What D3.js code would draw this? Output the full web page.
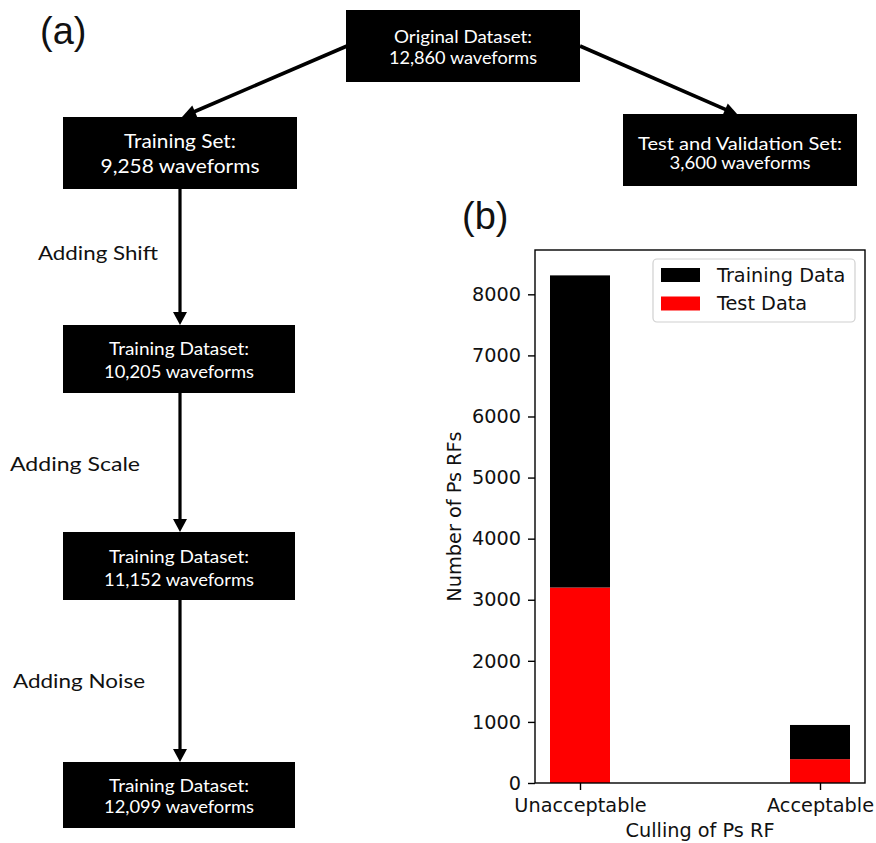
<!DOCTYPE html>
<html>
<head>
<meta charset="utf-8">
<script src="https://cdn.jsdelivr.net/npm/d3@7"></script>
<style>
  html, body { margin: 0; padding: 0; background: #fff; }
  svg { display: block; }
</style>
</head>
<body>
<svg id="chart" width="876" height="843"></svg>
<script>
// ---------------- DATA ----------------
const nodeTitles = ["Original Dataset:", "Training Set:", "Test and Validation Set:", "Training Dataset:", "Training Dataset:", "Training Dataset:"];
const nodeCounts = [12860, 9258, 3600, 10205, 11152, 12099];
const stepLabels = ["Adding Shift", "Adding Scale", "Adding Noise"];

const categories = ["Unacceptable", "Acceptable"];
const testData = [3200, 390];
const trainingData = [5110, 560];
const seriesNames = ["Training Data", "Test Data"];
const yTicks = [0, 1000, 2000, 3000, 4000, 5000, 6000, 7000, 8000];

// ---------------- LAYOUT ----------------
const svg = d3.select("#chart");
const boxFont = "Lato, 'Open Sans', sans-serif";
const fmt = d3.format(",");

const boxes = [
  {x: 346, y: 10, w: 234, h: 72, fs: 17, b1: 33, b2: 54, w1: 138, w2: 148},
  {x: 63, y: 117, w: 234, h: 72, fs: 19, b1: 31, b2: 56, w1: 112, w2: 159},
  {x: 623, y: 114, w: 234, h: 72, fs: 17.5, b1: 36, b2: 55, w1: 204, w2: 141},
  {x: 63, y: 325, w: 232, h: 68, fs: 17, b1: 30, b2: 53, w1: 140, w2: 150},
  {x: 63, y: 532, w: 232, h: 68, fs: 17, b1: 31, b2: 54, w1: 140, w2: 150},
  {x: 63, y: 762, w: 232, h: 66, fs: 17, b1: 30, b2: 51, w1: 140, w2: 150}
];

const g = svg.append("g");
boxes.forEach((b, i) => {
  g.append("rect").attr("x", b.x).attr("y", b.y).attr("width", b.w).attr("height", b.h).attr("fill", "#000");
  const cx = b.x + b.w / 2;
  g.append("text").attr("x", cx).attr("y", b.y + b.b1).attr("text-anchor", "middle")
    .attr("fill", "#fff").attr("font-family", boxFont).attr("font-size", b.fs)
    .attr("textLength", b.w1).attr("lengthAdjust", "spacingAndGlyphs")
    .text(nodeTitles[i]);
  g.append("text").attr("x", cx).attr("y", b.y + b.b2).attr("text-anchor", "middle")
    .attr("fill", "#fff").attr("font-family", boxFont).attr("font-size", b.fs)
    .attr("textLength", b.w2).attr("lengthAdjust", "spacingAndGlyphs")
    .text(fmt(nodeCounts[i]) + " waveforms");
});

function arrow(x1, y1, x2, y2, sw, hl, hw) {
  const dx = x2 - x1, dy = y2 - y1, len = Math.hypot(dx, dy);
  const ux = dx / len, uy = dy / len;
  const bx = x2 - ux * hl, by = y2 - uy * hl;
  g.append("line").attr("x1", x1).attr("y1", y1).attr("x2", bx + ux * 2).attr("y2", by + uy * 2)
    .attr("stroke", "#000").attr("stroke-width", sw);
  const px = -uy, py = ux;
  g.append("path")
    .attr("d", `M${x2},${y2}L${bx + px * hw / 2},${by + py * hw / 2}L${bx - px * hw / 2},${by - py * hw / 2}Z`)
    .attr("fill", "#000");
}

arrow(347, 46, 182, 117, 3.6, 14, 13);
arrow(580, 46, 738, 115, 3.6, 14, 13);
const chain = [1, 3, 4, 5];
for (let k = 0; k < chain.length - 1; k++) {
  const a = boxes[chain[k]], b = boxes[chain[k + 1]];
  arrow(180, a.y + a.h, 180, b.y, 3.2, 13, 14);
}

const stepPos = [{x: 38, y: 260, w: 120}, {x: 10, y: 471, w: 130}, {x: 13, y: 688, w: 132}];
stepLabels.forEach((s, i) => {
  g.append("text").attr("x", stepPos[i].x).attr("y", stepPos[i].y)
    .attr("font-family", boxFont).attr("font-size", 20).attr("fill", "#111")
    .attr("textLength", stepPos[i].w).attr("lengthAdjust", "spacingAndGlyphs")
    .text(s);
});

g.append("text").attr("x", 40).attr("y", 44).attr("font-family", "'Liberation Sans', Arial, sans-serif")
  .attr("font-size", 38).attr("fill", "#111").text("(a)");
g.append("text").attr("x", 462).attr("y", 229).attr("font-family", "'Liberation Sans', Arial, sans-serif")
  .attr("font-size", 38).attr("fill", "#111").text("(b)");

// ---------------- BAR CHART ----------------
const mFont = "'DejaVu Sans', sans-serif";
const fs = 19.3;
const L = 535, R = 865, T = 250, B = 783;
const barW = 0.25;
const totals = categories.map((c, i) => testData[i] + trainingData[i]);
const xMin = -barW / 2, xMax = categories.length - 1 + barW / 2;
const xPad = (xMax - xMin) * 0.05;
const x = d3.scaleLinear().domain([xMin - xPad, xMax + xPad]).range([L, R]);
const y = d3.scaleLinear().domain([0, d3.max(totals) * 1.05]).range([B, T]);

const bc = svg.append("g");
bc.selectAll("rect.test").data(categories).join("rect").attr("class", "test")
  .attr("x", (d, i) => x(i - barW / 2)).attr("width", (d, i) => x(i + barW / 2) - x(i - barW / 2))
  .attr("y", (d, i) => y(testData[i])).attr("height", (d, i) => y(0) - y(testData[i]))
  .attr("fill", "#ff0000");
bc.selectAll("rect.train").data(categories).join("rect").attr("class", "train")
  .attr("x", (d, i) => x(i - barW / 2)).attr("width", (d, i) => x(i + barW / 2) - x(i - barW / 2))
  .attr("y", (d, i) => y(testData[i] + trainingData[i])).attr("height", (d, i) => y(testData[i]) - y(testData[i] + trainingData[i]))
  .attr("fill", "#000");

const yAxis = d3.axisLeft(y).tickValues(yTicks).tickSize(7).tickPadding(7).tickFormat(d3.format("d"));
const yg = bc.append("g").attr("transform", `translate(${L},0)`).call(yAxis);
const xAxis = d3.axisBottom(x).tickValues(categories.map((c, i) => i)).tickSize(7).tickPadding(8)
  .tickFormat(i => categories[i]);
const xg = bc.append("g").attr("transform", `translate(0,${B})`).call(xAxis);
[yg, xg].forEach(a => {
  a.select(".domain").remove();
  a.selectAll("line").attr("stroke", "#000").attr("stroke-width", 1.4);
  a.selectAll("text").attr("font-family", mFont).attr("font-size", fs).attr("fill", "#111");
});
bc.append("rect").attr("x", L).attr("y", T).attr("width", R - L).attr("height", B - T)
  .attr("fill", "none").attr("stroke", "#000").attr("stroke-width", 1.4);

bc.append("text").attr("x", (L + R) / 2).attr("y", 837).attr("text-anchor", "middle")
  .attr("font-family", mFont).attr("font-size", fs).attr("fill", "#111").text("Culling of Ps RF");
bc.append("text").attr("transform", `translate(461,${(T + B) / 2}) rotate(-90)`).attr("text-anchor", "middle")
  .attr("font-family", mFont).attr("font-size", fs).attr("fill", "#111").text("Number of Ps RFs");

const lg = bc.append("g");
lg.append("rect").attr("x", 653).attr("y", 259).attr("width", 202).attr("height", 63).attr("rx", 4)
  .attr("fill", "#fff").attr("fill-opacity", 0.8).attr("stroke", "#d0d0d0").attr("stroke-width", 1.2);
const legColors = ["#000", "#ff0000"];
seriesNames.forEach((s, i) => {
  lg.append("rect").attr("x", 661).attr("y", 268 + i * 28.5).attr("width", 39).attr("height", 14).attr("fill", legColors[i]);
  lg.append("text").attr("x", 717).attr("y", 282 + i * 28).attr("font-family", mFont).attr("font-size", fs)
    .attr("fill", "#111").text(s);
});
</script>
</body>
</html>
